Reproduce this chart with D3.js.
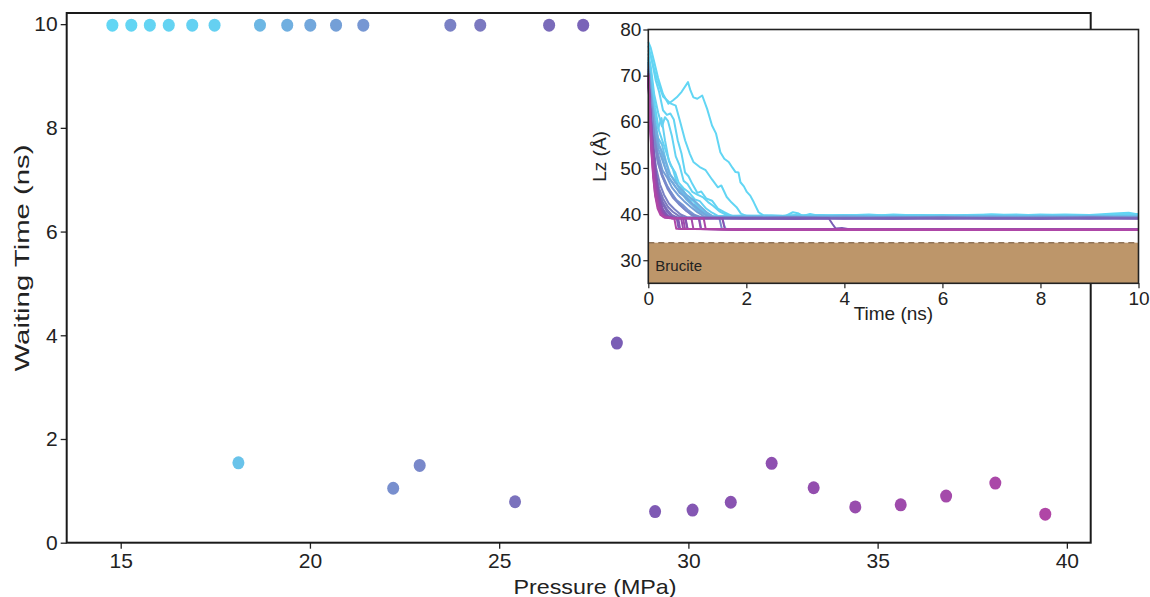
<!DOCTYPE html>
<html><head><meta charset="utf-8">
<script src="https://cdn.jsdelivr.net/npm/d3@7"></script>
<style>body{margin:0;background:#fff}svg text{font-family:"Liberation Sans",Arial,sans-serif;fill:#222}</style>
</head><body>
<svg id="c" width="1150" height="597"></svg>
<script>
// ---- main scatter data ----
const pressure = [14.78,15.28,15.77,16.27,16.89,17.48,18.68,19.40,20.01,20.69,21.41,23.71,24.50,26.32,27.22,
                  18.11,22.20,22.90,25.42,28.11,29.12,30.11,31.12,32.20,33.31,34.41,35.61,36.81,38.11,39.43];
const waitingTime = [9.98,9.98,9.98,9.98,9.98,9.98,9.98,9.98,9.98,9.98,9.98,9.98,9.98,9.98,9.98,
                  1.54,1.05,1.49,0.79,3.85,0.60,0.63,0.78,1.53,1.06,0.69,0.73,0.90,1.15,0.55];
const xTicks = [15,20,25,30,35,40];
const yTicks = [0,2,4,6,8,10];
const insetXTicks = [0,2,4,6,8,10];
const insetYTicks = [30,40,50,60,70,80];
const colorStops = [14.8,17.5,18.7,21.4,24.5,28.1,32.2,39.4];
const colorRange = ['#62d6f4','#65d0f1','#6db7e4','#7797d3','#7b79c0','#7a5db5','#8e50b0','#b046a6'];

// ---- inset trajectories: Lz (Å) vs time (ns), one per run ----
const trajPressure = [14.78,15.28,15.77,16.27,16.89,17.48,18.11,18.68,19.40,20.01,20.69,21.41,22.20,22.90,23.71,24.50,25.42,26.32,27.22,28.11,29.12,30.11,31.12,32.20,33.31,34.41,35.61,36.81,38.11,39.43];
const lz01 = [[0,77.3],[0.05,76],[0.12,73],[0.2,69.5],[0.3,66],[0.41,63.9],[0.5,64.6],[0.58,65.3],[0.68,66.5],[0.81,68.6],[0.86,66.8],[0.92,65.3],[1.0,65.0],[1.10,65.7],[1.2,62.8],[1.3,59.2],[1.38,57.5],[1.47,53.4],[1.55,52.0],[1.64,51.3],[1.72,50.0],[1.78,49.1],[1.84,49.0],[1.88,46.9],[1.95,46.0],[2.01,44.8],[2.08,44.0],[2.15,42.6],[2.25,40.4],[2.35,39.7],[2.6,39.5],[2.8,39.6],[2.95,40.4],[3.05,40.2],[3.15,39.6],[3.3,40.0],[3.5,39.6],[4,39.8],[4.5,39.6],[5,39.9],[5.5,39.7],[6,39.6],[6.5,39.8],[7,39.9],[7.5,39.7],[8,39.8],[8.5,39.9],[9,39.8],[9.5,40.1],[9.8,40.3],[10,39.9]];
const lz02 = [[0,76.5],[0.08,73],[0.18,69],[0.3,65.5],[0.45,64.0],[0.56,63.5],[0.65,60],[0.75,56],[0.85,53],[0.92,51.3],[1.05,50.2],[1.17,49.5],[1.3,47.5],[1.42,45.8],[1.49,46.2],[1.6,43.7],[1.7,42.5],[1.8,41.5],[1.89,40.1],[2.0,39.6],[2.3,39.7],[2.6,39.5],[3,39.8],[3.5,39.6],[4,39.7],[4.5,39.9],[5,39.6],[5.5,39.8],[6,39.7],[6.5,39.6],[7,39.9],[7.5,39.8],[8,39.6],[8.5,39.8],[9,39.7],[9.5,39.9],[10,40.0]];
const lz03 = [[0,75.5],[0.06,74],[0.15,69],[0.22,66.5],[0.3,62.5],[0.38,61.5],[0.45,61.8],[0.52,60.5],[0.6,56],[0.68,53],[0.75,49],[0.82,48.2],[0.9,46.5],[1.0,44.6],[1.08,44.9],[1.18,43.4],[1.3,42.9],[1.42,41.2],[1.55,40.4],[1.7,39.6],[2,39.5],[2.5,39.7],[3,39.5],[3.5,39.8],[4,39.6],[4.5,39.7],[5,39.5],[5.5,39.7],[6,39.8],[6.5,39.6],[7,39.7],[7.5,39.9],[8,39.7],[8.5,39.6],[9,39.8],[9.5,39.7],[10,39.9]];
const lz04 = [[0,74.8],[0.05,72],[0.12,66],[0.2,62],[0.28,59],[0.34,61],[0.4,60.2],[0.48,57],[0.56,52.5],[0.64,50.5],[0.72,47.2],[0.8,46.5],[0.9,44.8],[1.0,44.2],[1.12,43.6],[1.22,42.6],[1.32,41.8],[1.45,40.6],[1.6,39.8],[1.8,39.5],[2.5,39.6],[3,39.7],[3.5,39.5],[4,39.8],[4.5,39.6],[5,39.7],[5.5,39.5],[6,39.6],[6.5,39.8],[7,39.6],[7.5,39.7],[8,39.9],[8.5,39.7],[9,39.6],[9.5,39.8],[10,39.6]];
const lz05 = [[0,74],[0.06,70],[0.14,63],[0.22,58],[0.3,55.5],[0.38,53],[0.46,50.5],[0.55,49],[0.62,46.8],[0.72,45.6],[0.82,44.8],[0.95,43.2],[1.05,42.8],[1.18,41.2],[1.3,40.3],[1.42,39.6],[2,39.7],[2.5,39.5],[3,39.6],[3.5,39.8],[4,39.5],[4.5,39.7],[5,39.6],[5.5,39.8],[6,39.5],[6.5,39.7],[7,39.6],[7.5,39.5],[8,39.7],[8.5,39.8],[9,39.6],[9.5,39.7],[10,39.8]];
const lz06 = [[0,73.5],[0.05,69],[0.12,62.5],[0.2,58.5],[0.27,60.8],[0.34,56],[0.42,51.5],[0.5,49.8],[0.6,46.2],[0.7,45.5],[0.8,43.4],[0.92,42.8],[1.05,41.2],[1.18,40.1],[1.3,39.6],[2,39.5],[2.5,39.7],[3,39.5],[3.5,39.6],[4,39.7],[4.5,39.5],[5,39.6],[5.5,39.5],[6,39.7],[6.5,39.6],[7,39.5],[7.5,39.7],[8,39.6],[8.5,39.5],[9,39.7],[9.5,39.6],[10,39.8]];
const lz07 = [[0,73],[0.05,68.5],[0.12,61],[0.2,56.5],[0.28,55],[0.36,51.5],[0.45,48.5],[0.55,47.2],[0.66,45],[0.78,43.8],[0.9,42.2],[1.02,41.5],[1.15,40.2],[1.3,39.4],[1.51,39.2],[1.55,37.5],[1.58,36.8],[2,36.7],[4,36.7],[6,36.6],[8,36.7],[10,36.7]];
const lz08 = [[0,73],[0.05,67],[0.11,60],[0.18,55.5],[0.26,53.8],[0.34,50.2],[0.44,47.6],[0.55,45.9],[0.66,44.8],[0.78,43.1],[0.9,41.9],[1.02,40.6],[1.15,39.9],[1.3,39.4],[2,39.5],[3,39.4],[4,39.6],[5,39.4],[6,39.5],[7,39.6],[8,39.4],[9,39.6],[10,39.5]];
const lz09 = [[0,72.5],[0.06,66],[0.13,60],[0.22,55],[0.32,52.5],[0.42,49],[0.54,47],[0.66,45.5],[0.8,44],[0.95,42.8],[1.08,41.5],[1.2,40.3],[1.32,39.5],[1.45,39.3],[2,39.4],[3,39.3],[4,39.5],[5,39.3],[6,39.4],[7,39.3],[8,39.5],[9,39.3],[10,39.4]];
const lz10 = [[0,72],[0.06,65],[0.13,58.5],[0.21,54],[0.31,51],[0.41,48],[0.52,46.5],[0.64,44.6],[0.78,43.5],[0.92,42],[1.05,40.8],[1.18,39.8],[1.3,39.3],[2,39.3],[3,39.4],[4,39.2],[5,39.4],[6,39.3],[7,39.2],[8,39.4],[9,39.3],[10,39.3]];
const lz11 = [[0,71.5],[0.05,64.5],[0.12,57.5],[0.2,53],[0.29,49.5],[0.38,48],[0.48,45.8],[0.6,44.2],[0.73,42.8],[0.86,41.6],[1.0,40.4],[1.12,39.6],[1.25,39.2],[2,39.2],[3,39.3],[4,39.2],[5,39.3],[6,39.2],[7,39.3],[8,39.2],[9,39.3],[10,39.2]];
const lz12 = [[0,71.5],[0.05,63.5],[0.11,57],[0.18,52],[0.27,48.5],[0.36,46.5],[0.46,44.8],[0.57,43.1],[0.7,42],[0.82,40.8],[0.95,39.8],[1.08,39.3],[2,39.2],[3,39.1],[4,39.3],[5,39.2],[6,39.1],[7,39.3],[8,39.2],[9,39.1],[10,39.2]];
const lz13 = [[0,71],[0.05,64.5],[0.12,57],[0.2,52],[0.29,48.5],[0.39,46],[0.5,44],[0.62,42.4],[0.75,41],[0.88,39.8],[0.98,39.3],[1.04,39.1],[1.08,36.8],[2,36.7],[4,36.7],[6,36.7],[8,36.6],[10,36.7]];
const lz14 = [[0,71],[0.05,64],[0.12,56.5],[0.2,51],[0.29,48],[0.39,45.5],[0.5,43.6],[0.62,42.2],[0.76,40.8],[0.9,39.8],[1.05,39.3],[1.45,39.1],[1.5,36.8],[2,36.7],[4,36.6],[6,36.7],[8,36.7],[10,36.6]];
const lz15 = [[0,70.5],[0.04,62],[0.1,55],[0.16,50],[0.24,46.4],[0.32,44.2],[0.42,42.3],[0.53,41.1],[0.66,39.9],[0.8,39.3],[2,39.2],[3,39.3],[4,39.1],[5,39.2],[6,39.3],[7,39.1],[8,39.2],[9,39.3],[10,39.2]];
const lz16 = [[0,70.5],[0.04,61.5],[0.09,54.5],[0.15,49.2],[0.22,45.6],[0.3,43.4],[0.4,41.6],[0.5,40.5],[0.62,39.6],[0.75,39.2],[2,39.1],[3,39.2],[4,39.1],[5,39.0],[6,39.2],[7,39.1],[8,39.0],[9,39.2],[10,39.1]];
const lz17 = [[0,70],[0.04,61.5],[0.09,54],[0.15,48.5],[0.22,44.8],[0.3,42.5],[0.39,40.9],[0.48,39.8],[0.6,39.2],[0.75,39.1],[0.8,36.8],[2,36.7],[5,36.7],[10,36.7]];
const lz18 = [[0,70],[0.04,61],[0.09,53],[0.15,47.8],[0.22,44.2],[0.3,42],[0.39,40.4],[0.49,39.5],[0.6,39.2],[2,39.1],[3,39.0],[4,39.1],[5,39.0],[6,39.1],[7,39.0],[8,39.1],[9,39.0],[10,39.1]];
const lz19 = [[0,70],[0.04,60.5],[0.08,53],[0.14,47],[0.21,43.4],[0.29,41.2],[0.38,39.9],[0.48,39.2],[2,39.0],[3,39.1],[4,39.0],[5,39.1],[6,39.0],[7,39.1],[8,39.0],[9,39.1],[10,39.0]];
const lz20 = [[0,69.5],[0.04,59.5],[0.08,52],[0.14,46.4],[0.2,43],[0.28,40.8],[0.37,39.6],[0.48,39.1],[1,39.0],[2,39.1],[3,39.0],[3.68,39.1],[3.76,37.8],[3.82,36.9],[3.95,37.0],[4.1,36.7],[6,36.7],[8,36.7],[10,36.7]];
const lz21 = [[0,70.5],[0.04,63],[0.08,57],[0.13,51.5],[0.18,46.5],[0.24,43],[0.3,40.8],[0.37,39.6],[0.46,39.2],[0.58,39.1],[0.62,36.8],[2,36.7],[10,36.6]];
const lz22 = [[0,70.5],[0.04,62.5],[0.08,56.5],[0.13,51],[0.18,46],[0.23,42.8],[0.3,40.6],[0.36,39.5],[0.46,39.2],[0.61,39.1],[0.65,36.8],[2,36.7],[10,36.6]];
const lz23 = [[0,70],[0.04,62.5],[0.08,56],[0.12,50.5],[0.17,46],[0.23,42.6],[0.29,40.5],[0.36,39.5],[0.5,39.2],[0.76,39.1],[0.8,36.8],[2,36.7],[10,36.6]];
const lz24 = [[0,70],[0.04,62],[0.08,55.5],[0.12,50],[0.17,45.5],[0.22,42.4],[0.28,40.4],[0.35,39.5],[0.5,39.2],[1.0,39.1],[1.51,39.1],[1.56,36.8],[2,36.7],[10,36.6]];
const lz25 = [[0,70],[0.04,62],[0.07,56],[0.11,50],[0.16,45.5],[0.22,42.2],[0.28,40.3],[0.35,39.4],[0.5,39.2],[1.03,39.1],[1.07,36.8],[2,36.7],[10,36.6]];
const lz26 = [[0,70],[0.03,62.5],[0.07,55.5],[0.11,49.5],[0.16,45],[0.21,42],[0.27,40.2],[0.34,39.4],[0.5,39.1],[0.67,39.1],[0.71,36.8],[2,36.6],[10,36.6]];
const lz27 = [[0,70],[0.03,62],[0.07,55],[0.11,49],[0.15,44.8],[0.21,41.8],[0.27,40.1],[0.34,39.3],[0.5,39.1],[0.71,39.1],[0.75,36.8],[2,36.6],[10,36.6]];
const lz28 = [[0,70],[0.03,61.5],[0.07,54.5],[0.1,49],[0.15,44.5],[0.2,41.6],[0.26,40],[0.33,39.3],[0.5,39.1],[0.88,39.1],[0.92,36.8],[2,36.6],[10,36.6]];
const lz29 = [[0,70],[0.03,61],[0.06,54.5],[0.1,48.5],[0.14,44.2],[0.2,41.4],[0.26,39.9],[0.33,39.3],[0.5,39.1],[1.13,39.1],[1.17,36.8],[2,36.6],[10,36.6]];
const lz30 = [[0,70],[0.03,61],[0.06,54],[0.1,48],[0.14,44],[0.19,41.2],[0.25,39.8],[0.32,39.3],[0.45,39.1],[0.53,39.1],[0.57,36.8],[2,36.6],[10,36.6]];
const trajectories = [lz01,lz02,lz03,lz04,lz05,lz06,lz07,lz08,lz09,lz10,lz11,lz12,lz13,lz14,lz15,lz16,lz17,lz18,lz19,lz20,lz21,lz22,lz23,lz24,lz25,lz26,lz27,lz28,lz29,lz30];
const brucite = [25, 33.8];

const svg = d3.select('#c');
const color = d3.scaleLinear().domain(colorStops).range(colorRange);

// ---- main plot ----
const M = {l:66.7, r:1090.7, t:13, b:542.7};
const x = d3.scaleLinear().domain([13.573, 40.63]).range([M.l, M.r]);
const y = d3.scaleLinear().domain([0, 10.215]).range([M.b, M.t]);

const gx = svg.append('g').attr('transform',`translate(0,${M.b})`)
  .call(d3.axisBottom(x).tickValues(xTicks).tickSize(6).tickPadding(4).tickFormat(d3.format('d')));
gx.select('.domain').remove();
gx.selectAll('line').attr('stroke','#222').attr('stroke-width',1.3);
gx.selectAll('text').attr('font-size',21);
const gy = svg.append('g').attr('transform',`translate(${M.l},0)`)
  .call(d3.axisLeft(y).tickValues(yTicks).tickSize(6).tickPadding(3).tickFormat(d3.format('d')));
gy.select('.domain').remove();
gy.selectAll('line').attr('stroke','#222').attr('stroke-width',1.3);
gy.selectAll('text').attr('font-size',21);

svg.append('rect').attr('x',M.l).attr('y',M.t).attr('width',M.r-M.l).attr('height',M.b-M.t)
  .attr('fill','none').attr('stroke','#1a1a1a').attr('stroke-width',2);

svg.append('text').attr('x',595).attr('y',594).attr('text-anchor','middle')
  .attr('font-size',21).attr('textLength',163).attr('lengthAdjust','spacingAndGlyphs').text('Pressure (MPa)');
svg.append('text').attr('transform',`translate(29,${258}) rotate(-90)`).attr('text-anchor','middle')
  .attr('font-size',21).attr('textLength',227).attr('lengthAdjust','spacingAndGlyphs').text('Waiting Time (ns)');

svg.append('g').selectAll('ellipse').data(pressure.map((p,i)=>({p, w:waitingTime[i]})))
  .join('ellipse').attr('cx',d=>x(d.p)).attr('cy',d=>y(d.w)).attr('rx',6).attr('ry',6.5)
  .attr('fill',d=>color(d.p));

// ---- inset ----
const I = {l:648.3, r:1138.5, t:29.5, b:283.3};
const ix = d3.scaleLinear().domain([0,10]).range([I.l, I.r]);
const iy = d3.scaleLinear().domain([25,80]).range([I.b, I.t]);
const ig = svg.append('g');
ig.append('rect').attr('x',I.l).attr('y',I.t).attr('width',I.r-I.l).attr('height',I.b-I.t).attr('fill','#fff');
ig.append('rect').attr('x',ix(0)).attr('y',iy(brucite[1])).attr('width',ix(10)-ix(0)).attr('height',iy(brucite[0])-iy(brucite[1]))
  .attr('fill','#bd966a');
ig.append('line').attr('x1',ix(0)).attr('x2',ix(10)).attr('y1',iy(brucite[1])).attr('y2',iy(brucite[1]))
  .attr('stroke','#8f7358').attr('stroke-width',1.5).attr('stroke-dasharray','6,4');
ig.append('text').attr('x',ix(0)+7).attr('y',iy(27.6)).attr('font-size',15).attr('fill','#333').text('Brucite');

const line = d3.line().x(d=>ix(d[0])).y(d=>iy(d[1]));
const order = d3.range(trajectories.length);
ig.append('g').selectAll('path').data(order).join('path')
  .attr('d',i=>line(trajectories[i])).attr('fill','none')
  .attr('stroke',i=>color(trajPressure[i])).attr('stroke-width',2).attr('stroke-linejoin','round');

const igx = ig.append('g').attr('transform',`translate(0,${I.b})`)
  .call(d3.axisBottom(ix).tickValues(insetXTicks).tickSize(5).tickPadding(3).tickFormat(d3.format('d')));
igx.select('.domain').remove();
igx.selectAll('line').attr('stroke','#222').attr('stroke-width',1.2);
igx.selectAll('text').attr('font-size',19);
const igy = ig.append('g').attr('transform',`translate(${I.l},0)`)
  .call(d3.axisLeft(iy).tickValues(insetYTicks).tickSize(5).tickPadding(2).tickFormat(d3.format('d')));
igy.select('.domain').remove();
igy.selectAll('line').attr('stroke','#222').attr('stroke-width',1.2);
igy.selectAll('text').attr('font-size',19);
ig.append('rect').attr('x',I.l).attr('y',I.t).attr('width',I.r-I.l).attr('height',I.b-I.t)
  .attr('fill','none').attr('stroke','#222').attr('stroke-width',1.6);

ig.append('text').attr('x',(I.l+I.r)/2).attr('y',320).attr('text-anchor','middle').attr('font-size',19).text('Time (ns)');
ig.append('text').attr('transform',`translate(606,${(I.t+I.b)/2}) rotate(-90)`).attr('text-anchor','middle')
  .attr('font-size',19).text('Lz (Å)');
</script>
</body></html>
